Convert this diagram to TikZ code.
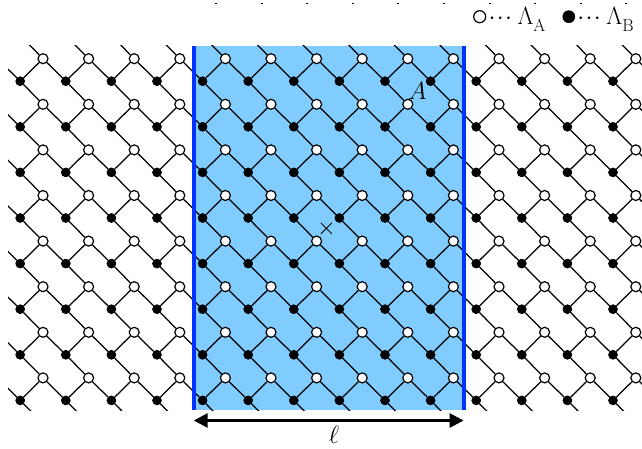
\documentclass[tikz,border=0pt]{standalone}
\usepackage{amsmath}
\usetikzlibrary{calc,positioning,arrows.meta,backgrounds,shapes.misc}
\definecolor{regionblue}{RGB}{128,204,255}
\definecolor{edgeblue}{RGB}{0,51,255}
\newcommand{\widtharrowstyle}{{Triangle[length=14pt,width=14pt]}-{Triangle[length=14pt,width=14pt]}}

\begin{document}
\begin{tikzpicture}[
    x=1pt, y=-1pt,
    font=\fontsize{26}{28}\selectfont,
    bond/.style={line width=1.25pt, line cap=butt},
    siteA/.style={circle, draw, fill=white, line width=1.2pt, minimum size=10pt, inner sep=0pt},
    siteB/.style={circle, draw, fill=black, line width=0.6pt, minimum size=9pt, inner sep=0pt},
    keyA/.style={siteA, minimum size=12pt},
    keyB/.style={siteB, minimum size=12pt},
    wall/.style={edgeblue, line width=3.8pt},
    span/.style={\widtharrowstyle, line width=2.8pt},
    marktick/.style={line width=0.8pt},
    centermark/.style={cross out, draw, line width=0.9pt, minimum size=10pt, inner sep=0pt}
]
  \def\pitch{45.6}
  \useasboundingbox (0,0) rectangle (642,449);

  % lattice sites, the ones outside the window are coordinates only
  \foreach \k in {-1,...,14} {
    \foreach \j in {-1,...,8} {
      \pgfmathsetmacro{\xa}{43 + \pitch * \k}
      \pgfmathsetmacro{\ya}{58.7 + \pitch * \j}
      \pgfmathsetmacro{\xb}{20.2 + \pitch * \k}
      \pgfmathsetmacro{\yb}{81.2 + \pitch * \j}
      \coordinate (ghostA-\k-\j) at (\xa,\ya);
      \coordinate (ghostB-\k-\j) at (\xb,\yb);
    }
  }
  \foreach \k in {0,...,13} {
    \foreach \j in {0,...,7} {
      \node[siteA] (siteA-\k-\j) at (ghostA-\k-\j) {};
      \node[siteB] (siteB-\k-\j) at (ghostB-\k-\j) {};
    }
  }

  \begin{scope}[on background layer]
    \fill[regionblue] (193,46) rectangle (464,410);
    \clip (8,46) rectangle (642,410);
    \foreach \k in {0,...,13} {
      \foreach \j in {0,...,7} {
        \draw[bond] (siteA-\k-\j) -- (siteB-\k-\j);
      }
    }
    \foreach \k/\n in {0/1,1/2,2/3,3/4,4/5,5/6,6/7,7/8,8/9,9/10,10/11,11/12,12/13} {
      \foreach \j in {0,...,7} {
        \draw[bond] (siteA-\k-\j) -- (siteB-\n-\j);
      }
    }
    \foreach \j/\i in {1/0,2/1,3/2,4/3,5/4,6/5,7/6} {
      \foreach \k in {0,...,13} {
        \draw[bond] (siteA-\k-\j) -- (siteB-\k-\i);
      }
    }
    % stubs running out of the window
    \foreach \k in {0,...,13} {
      \draw[bond] (siteA-\k-0) -- (ghostB-\k--1);
      \draw[bond] (siteB-\k-7) -- (ghostA-\k-8);
    }
    \foreach \j in {0,...,7} {
      \draw[bond] (ghostA--1-\j) -- (siteB-0-\j);
      \draw[bond] (siteA-13-\j) -- (ghostB-14-\j);
    }
  \end{scope}

  \draw[wall] (193.7,46) coordinate (wallL-top) -- (193.7,410) coordinate (wallL-bot);
  \draw[wall] (463.6,46) coordinate (wallR-top) -- (463.6,410) coordinate (wallR-bot);

  \coordinate (spanL) at (193.7,420.5);
  \coordinate (spanR) at (463.6,420.5);
  \draw[span] (spanL) -- (spanR);
  \node[font=\fontsize{28}{30}\selectfont] (ell) at (334,435) {$\ell$};

  \node[font=\fontsize{23}{25}\selectfont] (labelA) at (417.5,91) {$A$};
  \node[centermark] (center) at (326.4,228.4) {};

  % legend
  \node[keyA] (keyA) at (479.7,16.7) {};
  \node[anchor=base west, inner sep=0pt] (keyAtxt) at ([xshift=2pt,yshift=-7.6pt]keyA.east)
    {${\cdot}\mkern1mu{\cdot}\mkern1mu{\cdot}\mkern4mu\Lambda_{\lower3.5pt\hbox{$\scriptstyle\mathrm{A}$}}$};
  \node[keyB] (keyB) at (568.8,16.7) {};
  \node[anchor=base west, inner sep=0pt] (keyBtxt) at ([xshift=2pt,yshift=-7.6pt]keyB.east)
    {${\cdot}\mkern1mu{\cdot}\mkern1mu{\cdot}\mkern4mu\Lambda_{\lower3.5pt\hbox{$\scriptstyle\mathrm{B}$}}$};

  % tick ends at the top edge
  \foreach \c in {0,...,9} {
    \pgfmathsetmacro{\x}{216 + \pitch * \c}
    \draw[marktick] (\x-1,3) -- (\x+1,3);
  }
\end{tikzpicture}
\end{document}
